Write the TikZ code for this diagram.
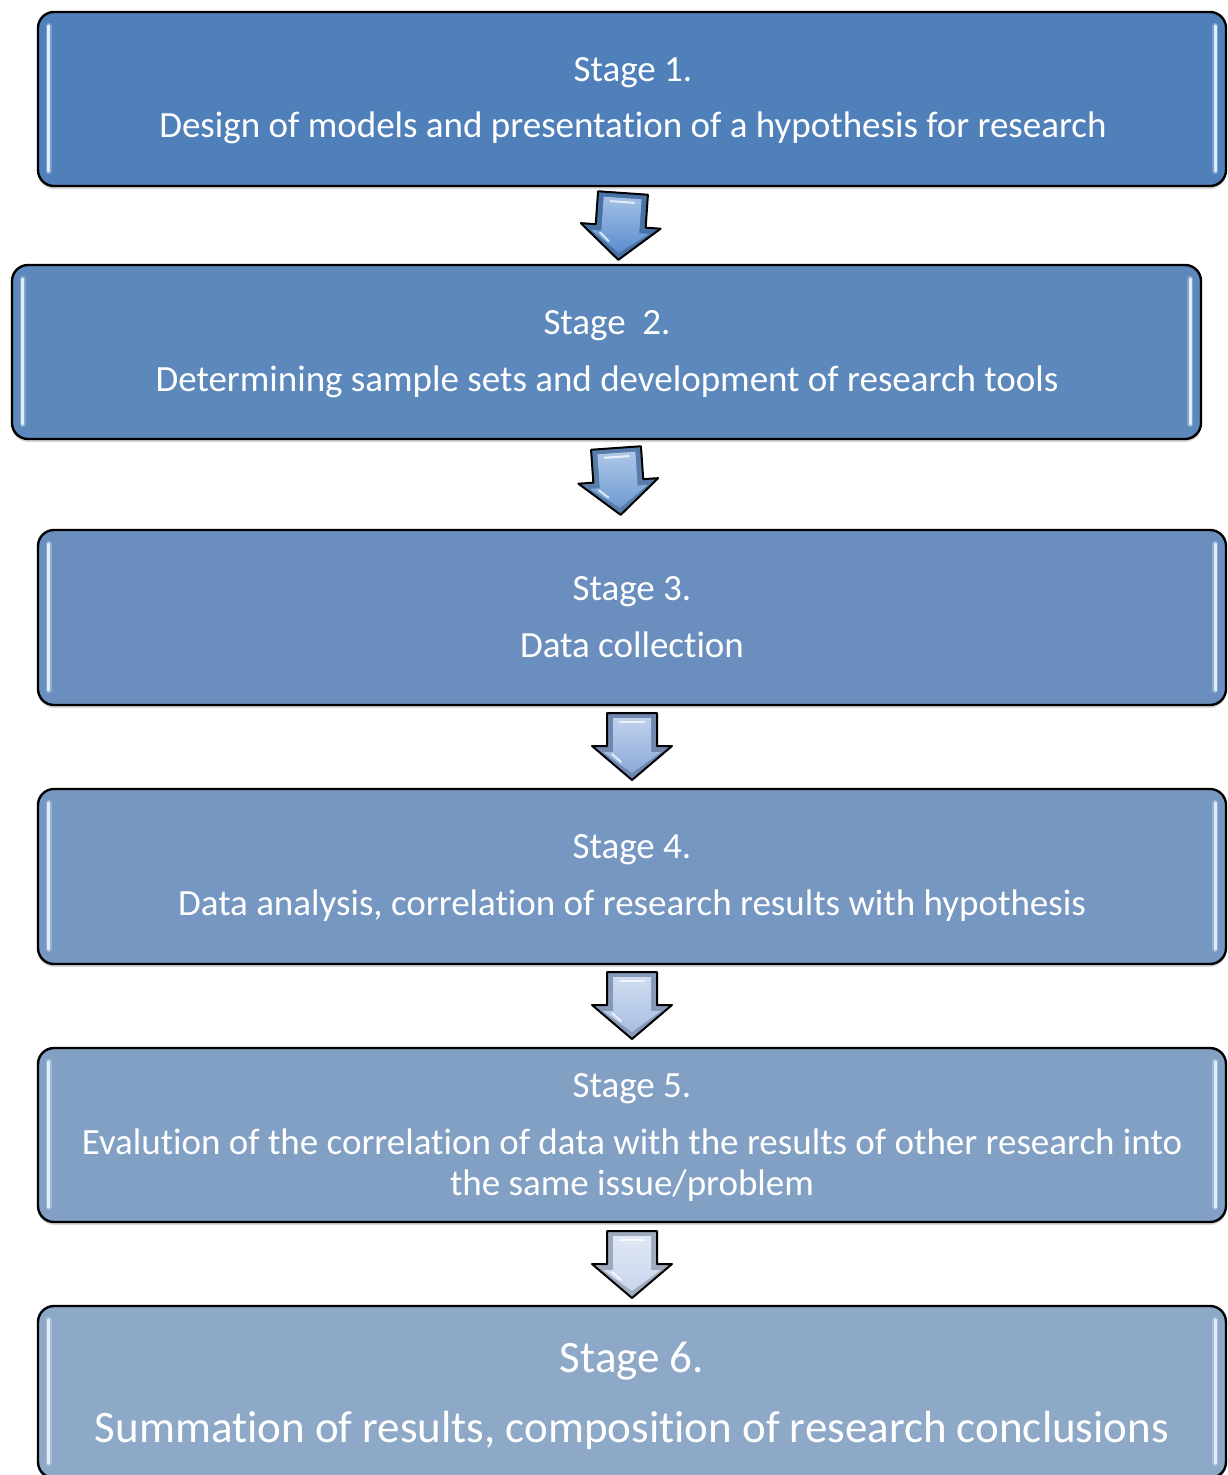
\documentclass[tikz,border=0pt]{standalone}
\usepackage{fontspec}
\setmainfont{Carlito}[Ligatures={NoCommon}]
\usetikzlibrary{shadows,calc}
\definecolor{c1}{HTML}{5080BA}
\definecolor{c2}{HTML}{5C88BC}
\definecolor{c3}{HTML}{6A8FBE}
\definecolor{c4}{HTML}{7697C1}
\definecolor{c5}{HTML}{829FC4}
\definecolor{c6}{HTML}{8EA8C8}
\definecolor{a1}{HTML}{5A8DCF}
\definecolor{a2}{HTML}{6E9BD3}
\definecolor{a3}{HTML}{8CAADA}
\definecolor{a4}{HTML}{A9BFE3}
\definecolor{a5}{HTML}{C8D5EC}
\definecolor{hlcol}{HTML}{DDEFFC}
\tikzset{
  stagebox/.style={draw=black, line width=2.4pt, rounded corners=16pt, fill=#1,
    drop shadow={shadow xshift=0pt, shadow yshift=-3pt, opacity=0.3}, inner sep=0pt},
  txt/.style={text=white, font=\fontsize{37}{42}\selectfont, anchor=base, inner sep=0pt},
  bigtxt/.style={text=white, font=\fontsize{45}{50}\selectfont, anchor=base, inner sep=0pt},
  hl/.style={draw=hlcol, line width=3pt, line cap=round},
  hlglow/.style={draw=white, line width=6pt, line cap=round, opacity=0.25},
}
\newcommand\blockarrow[3]{%
  \begin{scope}[shift={#1}, rotate=#2]
    \fill[#3!80!black] (-25,0) -- (25,0) -- (25,33) -- (40,33) -- (0,67) -- (-40,33) -- (-25,33) -- cycle;
    \shade[top color=#3!55!white, bottom color=#3] (-19,5) -- (19,5) -- (19,39) -- (29,39) -- (0,60) -- (-29,39) -- (-19,39) -- cycle;
    \draw[white, opacity=0.75, line width=2pt, line cap=round] (-12,9) -- (12,9);
    \draw[white, opacity=0.75, line width=2pt, line cap=round] (-20,41) -- (-11,49);
    \draw[black, line width=2pt, line join=round] (-25,0) -- (25,0) -- (25,33) -- (40,33) -- (0,67) -- (-40,33) -- (-25,33) -- cycle;
  \end{scope}}
\newcommand\boxhl[1]{%
  \draw[hlglow] ($(#1.north west)+(12,15)$) -- ($(#1.south west)+(12,-16)$);
  \draw[hl] ($(#1.north west)+(12,15)$) -- ($(#1.south west)+(12,-16)$);
  \draw[hlglow] ($(#1.north east)+(-12,15)$) -- ($(#1.south east)+(-12,-16)$);
  \draw[hl] ($(#1.north east)+(-12,15)$) -- ($(#1.south east)+(-12,-16)$);}
\begin{document}
\begin{tikzpicture}[x=1pt, y=-1pt]
\useasboundingbox (0,0) rectangle (1227,1475);
\clip (0,0) rectangle (1227,1475);
\fill[white] (0,0) rectangle (1227,1475);

\node[stagebox=c1, minimum width=1188pt, minimum height=174pt] (b1) at (632,99) {};
\node[stagebox=c2, minimum width=1189pt, minimum height=174pt] (b2) at (606.5,352) {};
\node[stagebox=c3, minimum width=1188pt, minimum height=175pt] (b3) at (632,617.5) {};
\node[stagebox=c4, minimum width=1188pt, minimum height=175pt] (b4) at (632,876.5) {};
\node[stagebox=c5, minimum width=1188pt, minimum height=174pt] (b5) at (632,1135) {};
\node[stagebox=c6, minimum width=1188pt, minimum height=172pt] (b6) at (632,1392) {};

\boxhl{b1}\boxhl{b2}\boxhl{b3}\boxhl{b4}\boxhl{b5}\boxhl{b6}

\node[txt] (t1a) at (633,81) {Stage 1.};
\node[txt] (t1b) at (633,137) {Design of models and presentation of a hypothesis for research};
\node[txt] (t2a) at (607,334) {Stage\ \ 2.};
\node[txt] (t2b) at (607,391) {Determining sample sets and development of research tools};
\node[txt] (t3a) at (632,600) {Stage 3.};
\node[txt] (t3b) at (632,657) {Data collection};
\node[txt] (t4a) at (632,858) {Stage 4.};
\node[txt] (t4b) at (632,915) {Data analysis, correlation of research results with hypothesis};
\node[txt] (t5a) at (632,1097) {Stage 5.};
\node[txt] (t5b) at (632,1154) {Evalution of the correlation of data with the results of other research into};
\node[txt] (t5c) at (632,1195) {the same issue/problem};
\node[bigtxt] (t6a) at (632,1372) {Stage 6.};
\node[bigtxt] (t6b) at (632,1442) {Summation of results, composition of research conclusions};

\blockarrow{(623,193)}{-4}{a1}
\blockarrow{(616,448)}{4}{a2}
\blockarrow{(632,713)}{0}{a3}
\blockarrow{(632,972)}{0}{a4}
\blockarrow{(632,1231)}{0}{a5}
\end{tikzpicture}
\end{document}
